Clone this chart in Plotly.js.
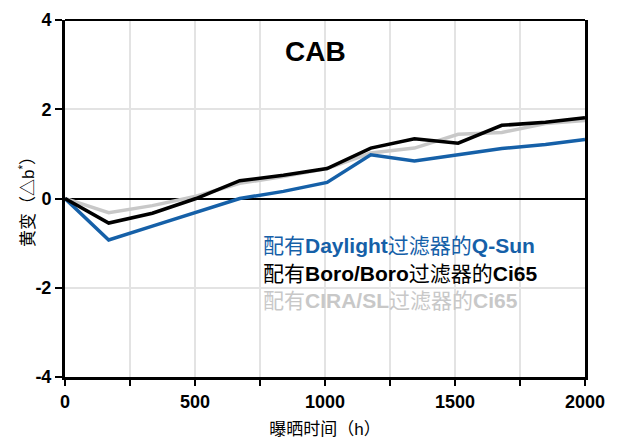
<!DOCTYPE html>
<html>
<head>
<meta charset="utf-8">
<script src="https://cdn.plot.ly/plotly-3.0.1.min.js"></script>
<style>
  html, body { margin: 0; padding: 0; background: #fff; }
  #chart { width: 623px; height: 439px; }
</style>
</head>
<body>
<div id="chart"></div>
<script>
// Exposure time (hours) at each measurement
const hours = [0, 168, 336, 504, 672, 840, 1008, 1176, 1344, 1512, 1680, 1848, 2000];

// Yellowing Δb* for each instrument / filter combination
const qsunDaylight = [0, -0.93, -0.62, -0.31, 0, 0.16, 0.36, 0.98, 0.84, 0.98, 1.12, 1.21, 1.32];
const ci65BoroBoro = [0, -0.55, -0.33, 0.0, 0.40, 0.52, 0.67, 1.13, 1.34, 1.24, 1.64, 1.71, 1.81];
const ci65CiraSl   = [0, -0.32, -0.16, 0.05, 0.34, 0.49, 0.67, 1.02, 1.13, 1.44, 1.48, 1.68, 1.75];

// Axis tick labels
const xTickVals = [0, 500, 1000, 1500, 2000];
const xTickText = ['0', '500', '1000', '1500', '2000'];
const yTickVals = [-4, -2, 0, 2, 4];
const yTickText = ['-4', '-2', '0', '2', '4'];

const seriesNames = [
  '配有<b>Daylight</b>过滤器的<b>Q-Sun</b>',
  '配有<b>Boro/Boro</b>过滤器的<b>Ci65</b>',
  '配有<b>CIRA/SL</b>过滤器的<b>Ci65</b>'
];
const seriesColors = ['#1560a8', '#000000', '#c8c8c8'];
const seriesValues = [qsunDaylight, ci65BoroBoro, ci65CiraSl];

const chartTitle = 'CAB';
const xTitle = '曝晒时间（h）';
const yTitle = '黄变（△b<sup>*</sup>）';

const font = '"Liberation Sans", Arial, "Noto Sans CJK SC", sans-serif';

// draw order: grey underneath, then blue, black on top
const order = [2, 0, 1];
const traces = order.map(i => ({
  x: hours,
  y: seriesValues[i],
  type: 'scatter',
  mode: 'lines',
  line: { color: seriesColors[i], width: 3.5 },
  name: seriesNames[i],
  showlegend: false
}));

// legend written as coloured text lines inside the plot
const legendY = [-1.06, -1.69, -2.29];
const annotations = seriesNames.map((n, i) => ({
  x: 755, y: legendY[i], xref: 'x', yref: 'y',
  xanchor: 'left', yanchor: 'middle',
  text: n, showarrow: false,
  font: { family: font, size: 21, color: seriesColors[i] }
}));

// chart label inside the plot area
annotations.push({
  x: 965, y: 3.3, xref: 'x', yref: 'y',
  xanchor: 'center', yanchor: 'middle',
  text: '<b>' + chartTitle + '</b>', showarrow: false,
  font: { family: font, size: 28, color: '#000' }
});

// rotated y-axis title
annotations.push({
  x: 27, y: 198, xref: 'paper', yref: 'paper',
  text: yTitle, showarrow: false, textangle: -90,
  xanchor: 'center', yanchor: 'middle',
  font: { family: font, size: 17, color: '#000' }
});

const layout = {
  width: 623, height: 439,
  margin: { l: 65, r: 38, t: 20, b: 62 },
  paper_bgcolor: '#fff', plot_bgcolor: '#fff',
  font: { family: font, color: '#000' },
  xaxis: {
    range: [0, 2000],
    tickmode: 'array', tickvals: xTickVals, ticktext: xTickText,
    ticks: 'outside', ticklen: 6, tickwidth: 2, tickcolor: '#000',
    tickfont: { family: font, size: 18, color: '#000', weight: 'bold' },
    showgrid: true, gridcolor: '#e3e3e3', gridwidth: 2,
    minor: { dtick: 250, tick0: 0, ticks: 'outside', ticklen: 6, tickwidth: 2, tickcolor: '#000',
             showgrid: true, gridcolor: '#e3e3e3', gridwidth: 2 },
    showline: true, linecolor: '#000', linewidth: 3, mirror: false,
    zeroline: false,
    title: { text: xTitle, font: { family: font, size: 17, color: '#000' }, standoff: 16 }
  },
  yaxis: {
    range: [-4, 4],
    tickmode: 'array', tickvals: yTickVals, ticktext: yTickText,
    ticks: 'outside', ticklen: 7, tickwidth: 2, tickcolor: '#000',
    tickfont: { family: font, size: 18, color: '#000', weight: 'bold' },
    showgrid: true, gridcolor: '#e3e3e3', gridwidth: 2,
    showline: true, linecolor: '#000', linewidth: 3, mirror: true,
    zeroline: true, zerolinecolor: '#000', zerolinewidth: 2
  },
  shapes: [
    { type: 'line', xref: 'paper', yref: 'paper', x0: 0, x1: 1, y0: 1, y1: 1,
      line: { color: '#000', width: 2 } }
  ],
  annotations: annotations
};

// y title placed by pixel: convert to paper fraction
const plotW = layout.width - layout.margin.l - layout.margin.r;
const plotH = layout.height - layout.margin.t - layout.margin.b;
const yt = annotations[annotations.length - 1];
yt.x = (yt.x - layout.margin.l) / plotW;
yt.y = (layout.height - layout.margin.b - yt.y) / plotH;

Plotly.newPlot('chart', traces, layout, { staticPlot: true, displayModeBar: false });
</script>
</body>
</html>
